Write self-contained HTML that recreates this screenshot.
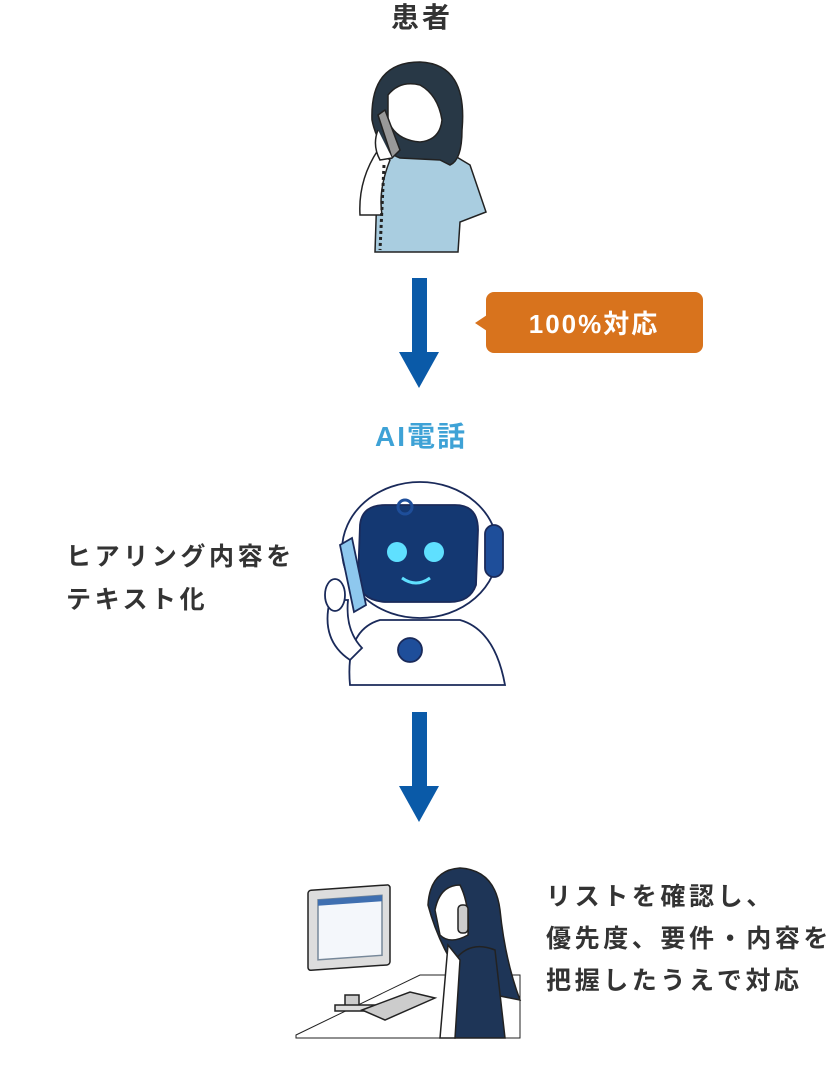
<!DOCTYPE html>
<html><head><meta charset="utf-8"><style>
html,body{margin:0;padding:0;background:#fff;}
body{width:840px;height:1066px;position:relative;overflow:hidden;font-family:"Liberation Sans","Noto Sans CJK JP",sans-serif;}
.t{position:absolute;font-weight:bold;color:#333;white-space:nowrap;}
</style></head><body>
<div class="t" style="left:3px;width:838px;text-align:center;top:1px;font-size:28px;letter-spacing:3px;line-height:34px;">患者</div>
<div class="t" style="left:2px;width:838px;text-align:center;top:419px;font-size:28px;letter-spacing:2px;line-height:36px;color:#3ea2d6;">AI電話</div>
<div class="t" style="left:66px;top:536px;font-size:25px;letter-spacing:3.6px;line-height:43px;">ヒアリング内容を<br>テキスト化</div>
<div class="t" style="left:546px;top:876px;font-size:25px;letter-spacing:3.6px;line-height:42px;">リストを確認し、<br>優先度、要件・内容を<br>把握したうえで対応</div>

<svg width="840" height="1066" style="position:absolute;left:0;top:0" xmlns="http://www.w3.org/2000/svg">
<rect x="412" y="278" width="15" height="76" fill="#0a5aa8"/>
<polygon points="399,352 439,352 419,388" fill="#0a5aa8"/>
<rect x="412" y="712" width="15" height="76" fill="#0a5aa8"/>
<polygon points="399,786 439,786 419,822" fill="#0a5aa8"/>
<rect x="486" y="292" width="217" height="61" rx="8" fill="#d8731d"/>
<polygon points="487,315 475,323 487,331" fill="#d8731d"/>
<text x="594" y="333" text-anchor="middle" font-size="26" letter-spacing="2" font-weight="bold" fill="#fff" font-family="Liberation Sans,Noto Sans CJK JP,sans-serif">100%対応</text>

<g stroke="#222" stroke-width="1.5">
<path d="M378,160 L395,148 L445,150 L470,165 L486,212 L460,222 L458,252 L375,252 Z" fill="#a9cde0"/>
<path d="M360,215 Q358,180 378,150 L390,160 Q378,190 382,215 Z" fill="#fff"/>
<path d="M372,120 Q370,62 420,62 Q468,64 462,130 Q462,160 450,165 L440,160 L400,158 Q378,150 372,120 Z" fill="#283846"/>
<path d="M388,95 Q400,80 420,85 Q438,95 442,120 Q440,140 420,142 Q395,140 388,120 Z" fill="#fff"/>
<path d="M378,115 L385,110 L400,150 L392,158 Z" fill="#999"/>
<path d="M378,130 Q372,145 380,160 L392,158" fill="#fff"/>
<path d="M384,165 L380,250" fill="none" stroke-dasharray="3,3" stroke-width="3"/>
</g>

<g stroke="#1a2a5a" stroke-width="1.8">
<path d="M350,685 Q345,630 380,620 L460,620 Q495,630 505,685 Z" fill="#fff"/>
<path d="M330,600 Q320,640 350,660 L362,648 Q345,630 348,600 Z" fill="#fff"/>
<circle cx="410" cy="650" r="12" fill="#1e4e9a"/>
<ellipse cx="420" cy="550" rx="78" ry="68" fill="#fff"/>
<rect x="485" y="525" width="18" height="52" rx="9" fill="#1e4e9a"/>
<path d="M360,525 Q362,505 385,505 L455,505 Q478,505 478,530 L476,585 Q470,602 450,602 L385,602 Q360,600 358,580 Z" fill="#143872"/>
<circle cx="397" cy="552" r="10" fill="#5fe0ff" stroke="none"/>
<circle cx="434" cy="552" r="10" fill="#5fe0ff" stroke="none"/>
<path d="M402,578 Q416,588 430,578" fill="none" stroke="#5fe0ff" stroke-width="3"/>
<circle cx="405" cy="507" r="7" fill="none" stroke="#1e4e9a" stroke-width="3"/>
<path d="M340,545 L352,538 L366,605 L354,612 Z" fill="#8ec8ee"/>
<ellipse cx="335" cy="595" rx="10" ry="16" fill="#fff"/>
</g>

<g stroke="#222" stroke-width="1.5">
<path d="M296,1035 L420,975 L520,975 L520,1038 L296,1038 Z" fill="#fff" stroke-width="1"/>
<path d="M428,905 Q430,870 460,868 Q495,870 500,910 Q505,960 520,1000 L470,990 Q440,950 428,905 Z" fill="#1e3557"/>
<path d="M435,910 Q440,885 460,885 Q470,905 468,935 Q450,945 440,935 Z" fill="#fff"/>
<path d="M455,960 Q470,940 495,950 L505,1038 L455,1038 Z" fill="#1e3557"/>
<path d="M448,945 L460,960 L455,1038 L440,1038 Z" fill="#fff"/>
<rect x="458" y="905" width="10" height="28" rx="4" fill="#ccc"/>
<rect x="308" y="912" width="82" height="80" rx="3" fill="#ddd" transform="skewY(-4)"/>
<rect x="318" y="922" width="64" height="60" fill="#f4f7fb" stroke="#789" transform="skewY(-4)"/>
<rect x="318" y="922" width="64" height="6" fill="#3f6fb0" stroke="none" transform="skewY(-4)"/>
<rect x="345" y="995" width="14" height="14" fill="#ccc"/>
<rect x="335" y="1005" width="40" height="6" fill="#ddd"/>
<path d="M362,1010 L410,992 L435,998 L385,1020 Z" fill="#ccc"/>
</g>
</svg>
</body></html>
